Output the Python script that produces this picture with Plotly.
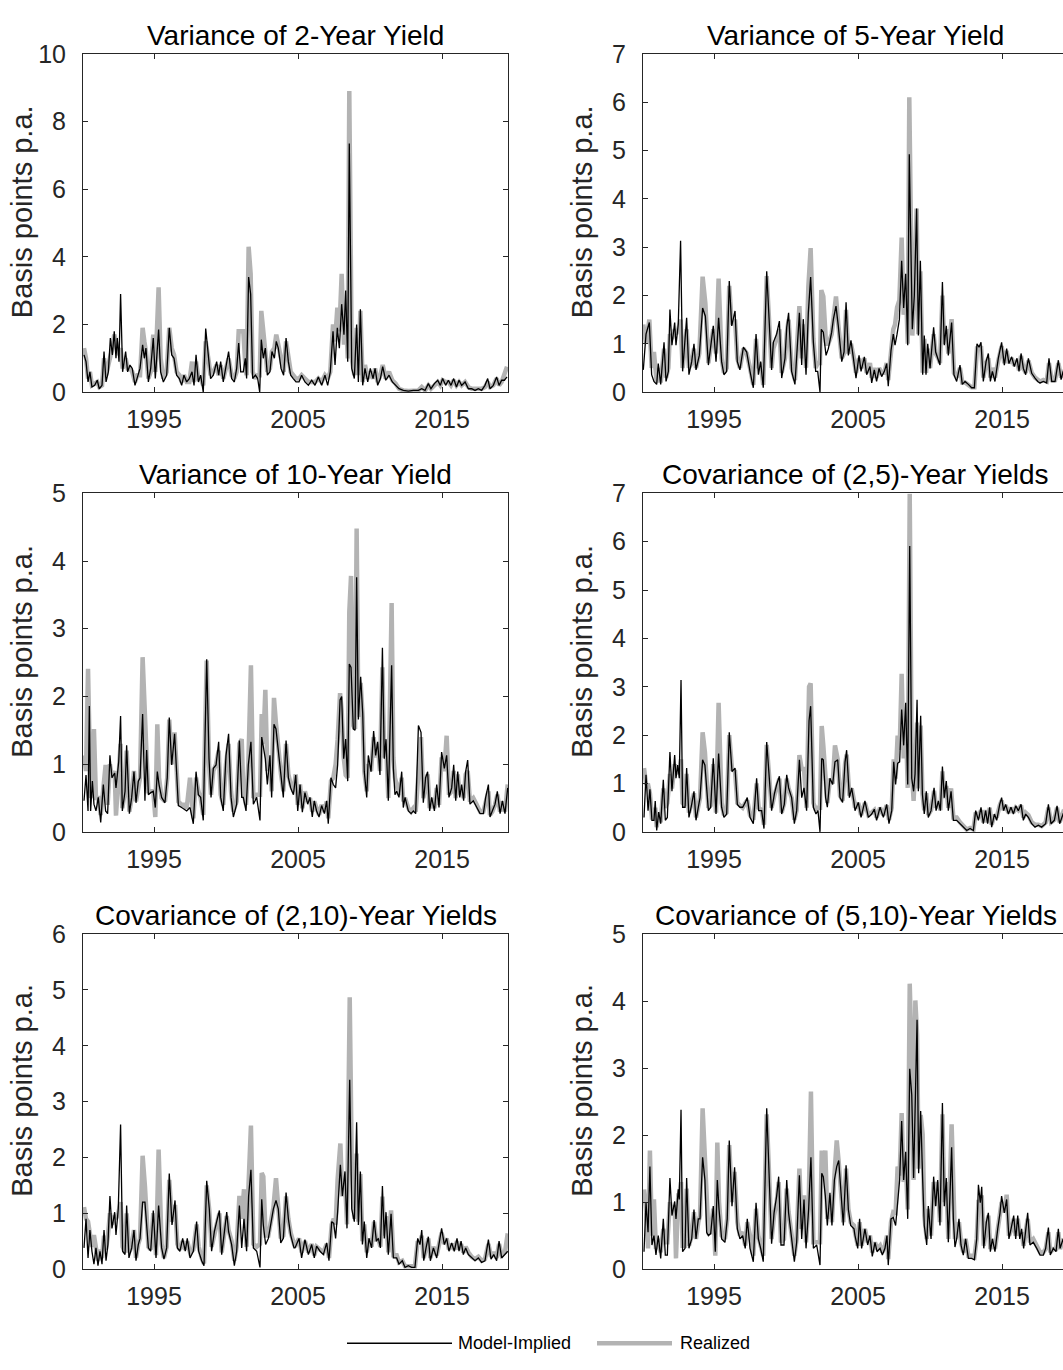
import plotly.graph_objects as go

# ---------------- DATA (decimal years, basis points p.a.) ----------------
# Panel 1: Variance of 2-Year Yield
v2_t = [1990.14, 1990.28, 1990.42, 1990.55, 1990.69, 1990.88, 1991.06, 1991.20, 1991.39, 1991.53,
        1991.67, 1991.83, 1991.97, 1992.11, 1992.24, 1992.36, 1992.45, 1992.57, 1992.68, 1992.82,
        1993.03, 1993.17, 1993.33, 1993.49, 1993.68, 1993.84, 1994.03, 1994.21, 1994.33, 1994.44,
        1994.61, 1994.77, 1994.95, 1995.09, 1995.32, 1995.46, 1995.65, 1995.88, 1996.06, 1996.23,
        1996.39, 1996.57, 1996.76, 1996.92, 1997.08, 1997.27, 1997.45, 1997.64, 1997.78, 1997.92,
        1998.08, 1998.24, 1998.42, 1998.59, 1998.77, 1998.93, 1999.12, 1999.35, 1999.49, 1999.63,
        1999.81, 2000.00, 2000.18, 2000.39, 2000.58, 2000.74, 2000.88, 2001.02, 2001.20, 2001.34,
        2001.43, 2001.57, 2001.71, 2001.85, 2002.04, 2002.20, 2002.34, 2002.45, 2002.59, 2002.73,
        2002.87, 2003.05, 2003.19, 2003.36, 2003.49, 2003.63, 2003.82, 2004.00, 2004.17, 2004.33,
        2004.49, 2004.67, 2004.86,
        2005.07, 2005.25, 2005.48, 2005.72, 2005.95, 2006.18, 2006.41, 2006.64, 2006.87, 2007.06,
        2007.24, 2007.43, 2007.57, 2007.73, 2007.87, 2008.03, 2008.19, 2008.31, 2008.45, 2008.56,
        2008.73, 2008.91, 2009.07, 2009.19, 2009.33, 2009.49, 2009.65, 2009.84, 2010.02, 2010.21,
        2010.35, 2010.53, 2010.72, 2010.88, 2011.09, 2011.32, 2011.55, 2011.78, 2012.01, 2012.31,
        2012.66, 2013.01, 2013.36, 2013.59, 2013.82, 2014.05, 2014.23, 2014.47, 2014.70, 2014.88,
        2015.04, 2015.25, 2015.44, 2015.62, 2015.81, 2016.00, 2016.18, 2016.36, 2016.60, 2016.83,
        2017.06, 2017.29, 2017.52, 2017.75, 2017.98, 2018.17, 2018.33, 2018.56, 2018.79, 2018.96,
        2019.14, 2019.33, 2019.51]
v2_model = [1.1, 0.9, 0.3, 0.6, 0.15, 0.2, 0.35, 0.1, 0.2, 1.2,
            0.3, 0.6, 1.6, 1.1, 1.8, 1.0, 1.6, 0.9, 2.9, 0.6,
            1.2, 0.6, 0.8, 0.7, 0.2, 0.4, 0.7, 1.4, 1.0, 1.3,
            0.3, 0.7, 1.6, 0.4, 1.85, 0.6, 0.3, 0.5, 1.9, 1.1,
            1.0, 0.5, 0.4, 0.2, 0.5, 0.3, 0.4, 0.6, 0.2, 1.1,
            0.3, 0.5, 0.0, 1.88, 1.1, 0.4, 0.5, 0.9, 0.5, 0.9,
            0.3, 0.8, 1.2, 0.4, 0.3, 0.7, 1.45, 0.6, 0.6, 1.0,
            0.4, 3.4, 2.9, 0.4, 0.5, 0.4, 0.0, 1.55, 1.0, 1.3,
            0.5, 0.6, 1.2, 1.0, 1.5, 1.3, 0.7, 0.5, 1.6, 0.9,
            0.5, 0.4, 0.3,
            0.3, 0.5, 0.3, 0.2, 0.35, 0.2, 0.45, 0.2, 0.5, 0.2,
            0.6, 1.8, 0.8, 1.9, 1.3, 2.6, 1.7, 3.0, 0.9, 7.35,
            0.7, 0.4, 2.0, 0.3, 2.45, 0.2, 0.7, 0.3, 0.7, 0.4,
            0.7, 0.2, 0.4, 0.75, 0.35, 0.5, 0.3, 0.2, 0.1, 0.05,
            0.03, 0.05, 0.05, 0.1, 0.05, 0.25, 0.1, 0.25, 0.35, 0.2,
            0.4, 0.2, 0.35, 0.2, 0.4, 0.15, 0.35, 0.2, 0.3, 0.1,
            0.1, 0.05, 0.1, 0.05, 0.2, 0.4, 0.1, 0.2, 0.45, 0.2,
            0.35, 0.35, 0.45]
v2_real = [1.3, 1.0, 0.4, 0.6, 0.2, 0.25, 0.3, 0.15, 0.2, 1.0,
           0.5, 0.8, 1.0, 1.3, 1.7, 1.5, 1.4, 1.1, 1.3, 0.7,
           1.0, 0.7, 0.7, 0.6, 0.3, 0.5, 0.5, 1.9, 1.5, 1.2,
           0.4, 0.6, 1.7, 0.6, 3.1, 1.0, 0.4, 0.6, 1.9, 1.3,
           1.1, 0.6, 0.5, 0.3, 0.5, 0.3, 0.3, 0.9, 0.3, 0.9,
           0.4, 0.4, 0.2, 1.5, 1.0, 0.5, 0.6, 0.8, 0.5, 0.8,
           0.4, 0.7, 1.0, 0.5, 0.4, 0.6, 1.8, 1.8, 1.8, 0.8,
           0.5, 4.3, 3.5, 0.6, 0.4, 0.5, 0.5, 2.4, 1.8, 1.5,
           0.6, 0.7, 1.2, 1.3, 1.7, 1.4, 0.9, 0.6, 1.5, 1.0,
           0.6, 0.5, 0.4,
           0.4, 0.5, 0.4, 0.3, 0.3, 0.3, 0.4, 0.3, 0.5, 0.4,
           0.6, 2.0, 1.5, 2.5, 1.8, 3.5, 1.4, 2.4, 1.0, 8.9,
           1.0, 0.5, 1.9, 0.5, 2.4, 0.3, 0.8, 0.4, 0.6, 0.4,
           0.7, 0.3, 0.5, 0.8, 0.4, 0.6, 0.35, 0.25, 0.1, 0.05,
           0.03, 0.03, 0.05, 0.15, 0.05, 0.2, 0.1, 0.2, 0.3, 0.2,
           0.35, 0.3, 0.3, 0.2, 0.35, 0.2, 0.3, 0.2, 0.3, 0.15,
           0.1, 0.1, 0.1, 0.1, 0.15, 0.3, 0.15, 0.2, 0.4, 0.2,
           0.3, 0.5, 0.75]

# Panel 2: Variance of 5-Year Yield
v5_t = [1990.09, 1990.28, 1990.51, 1990.67, 1990.83, 1991.02, 1991.13, 1991.30, 1991.53, 1991.67,
        1991.83, 1991.94, 1992.08, 1992.27, 1992.36, 1992.52, 1992.68, 1992.82, 1993.10, 1993.26,
        1993.45, 1993.61, 1993.75, 1993.98, 1994.21, 1994.40, 1994.61, 1994.95, 1995.14, 1995.32,
        1995.53, 1995.69, 1995.88, 1996.06, 1996.23, 1996.46, 1996.62, 1996.80, 1997.04, 1997.27,
        1997.50, 1997.73, 1997.92, 1998.08, 1998.24, 1998.42, 1998.66, 1998.84, 1999.00, 1999.12,
        1999.35, 1999.54, 1999.70, 1999.93, 2000.05, 2000.18, 2000.39, 2000.62, 2000.93, 2001.09,
        2001.20, 2001.39, 2001.55, 2001.71, 2001.90, 2002.06, 2002.20, 2002.36, 2002.45, 2002.59,
        2002.78, 2002.94, 2003.17, 2003.29, 2003.47, 2003.63, 2003.87, 2004.03, 2004.17, 2004.33,
        2004.51, 2004.68, 2004.86,
        2005.07, 2005.21, 2005.44, 2005.60, 2005.83, 2005.95, 2006.13, 2006.29, 2006.46, 2006.64,
        2006.83, 2006.99, 2007.10, 2007.29, 2007.45, 2007.57, 2007.71, 2007.87, 2008.03, 2008.17,
        2008.31, 2008.45, 2008.56, 2008.77, 2008.91, 2009.07, 2009.19, 2009.33, 2009.49, 2009.60,
        2009.72, 2009.84, 2010.00, 2010.25, 2010.39, 2010.58, 2010.69, 2010.86, 2010.99, 2011.13,
        2011.27, 2011.50, 2011.66, 2011.85, 2012.08, 2012.24, 2012.43, 2012.66, 2012.89, 2013.08,
        2013.26, 2013.40, 2013.54, 2013.70, 2013.89, 2014.05, 2014.19, 2014.33, 2014.51, 2014.74,
        2014.97, 2015.16, 2015.32, 2015.48, 2015.67, 2015.85, 2016.04, 2016.18, 2016.32, 2016.48,
        2016.64, 2016.83, 2017.06, 2017.29, 2017.48, 2017.64, 2017.87, 2018.10, 2018.26, 2018.45,
        2018.68, 2018.91, 2019.10, 2019.24, 2019.45]
v5_model = [0.46, 1.2, 1.44, 0.36, 0.22, 0.16, 0.59, 0.16, 1.03, 0.22,
            0.43, 1.71, 0.97, 1.44, 0.97, 1.41, 3.13, 0.43, 1.54, 0.36,
            0.63, 1.0, 0.46, 0.76, 1.74, 1.57, 0.56, 1.37, 0.63, 1.54,
            0.63, 0.36, 0.43, 2.3, 1.37, 1.68, 0.63, 0.46, 0.93, 0.83,
            0.43, 0.09, 1.2, 0.36, 0.63, 0.09, 2.5, 1.37, 0.46, 1.03,
            1.2, 1.47, 0.29, 0.7, 1.34, 1.64, 0.43, 0.16, 1.64, 0.56,
            1.51, 0.36, 1.64, 2.38, 1.03, 0.43, 0.43, 0.0, 1.3, 1.24,
            0.76, 0.9, 1.24, 1.51, 1.78, 1.37, 0.63, 0.83, 1.86, 0.76,
            1.07, 0.7, 0.29,
            0.76, 0.43, 0.73, 0.36, 0.53, 0.19, 0.46, 0.22, 0.49, 0.32,
            0.43, 0.59, 0.12, 0.86, 1.2, 0.97, 1.2, 1.5, 2.72, 1.74,
            2.45, 0.97, 4.92, 1.3, 2.0, 3.8, 1.17, 2.72, 0.36, 1.17,
            0.36, 1.0, 0.49, 1.34, 0.83, 0.63, 0.56, 2.28, 0.97, 1.37,
            0.76, 1.44, 0.36, 0.22, 0.56, 0.16, 0.22, 0.16, 0.09, 0.09,
            1.0, 0.93, 1.03, 0.22, 0.63, 0.8, 0.22, 0.43, 0.22, 0.7,
            1.03, 0.56, 0.9, 0.59, 0.73, 0.53, 0.7, 0.43, 0.8, 0.49,
            0.36, 0.7, 0.39, 0.29, 0.22, 0.19, 0.22, 0.19, 0.7, 0.22,
            0.22, 0.66, 0.26, 0.43, 0.3]
v5_real = [1.4, 1.0, 1.5, 0.5, 0.83, 0.2, 0.5, 0.2, 0.9, 0.3,
           0.5, 1.2, 1.1, 1.3, 1.2, 1.3, 1.5, 0.5, 1.3, 0.5,
           0.6, 0.9, 0.5, 0.8, 2.39, 1.84, 0.6, 1.3, 0.8, 2.35,
           0.7, 0.4, 0.5, 2.2, 1.4, 1.5, 0.7, 0.5, 0.9, 0.8,
           0.5, 0.15, 1.1, 0.5, 0.6, 0.15, 2.4, 1.2, 0.5, 0.9,
           1.1, 1.3, 0.4, 0.7, 1.2, 1.5, 0.5, 0.25, 1.78, 0.7,
           1.4, 0.5, 2.18, 2.98, 1.1, 0.5, 0.6, 0.6, 2.11, 1.98,
           1.0, 1.0, 1.2, 1.57, 1.98, 1.4, 0.7, 0.8, 1.7, 0.8,
           1.0, 0.75, 0.4,
           0.7, 0.5, 0.7, 0.4, 0.6, 0.3, 0.5, 0.3, 0.5, 0.4,
           0.4, 0.6, 0.25, 0.9, 1.3, 1.4, 1.75, 1.9, 3.2, 1.6,
           2.3, 1.0, 6.1, 1.17, 2.05, 3.8, 1.2, 2.5, 0.4, 1.1,
           0.4, 0.9, 0.5, 1.2, 0.8, 0.7, 0.6, 2.0, 1.0, 1.3,
           0.8, 1.51, 0.4, 0.3, 0.5, 0.2, 0.2, 0.15, 0.1, 0.1,
           0.9, 0.9, 0.95, 0.3, 0.6, 0.7, 0.3, 0.5, 0.3, 0.65,
           0.95, 0.6, 0.85, 0.6, 0.7, 0.55, 0.65, 0.45, 0.75, 0.5,
           0.4, 0.65, 0.4, 0.3, 0.25, 0.22, 0.25, 0.22, 0.6, 0.25,
           0.25, 0.6, 0.3, 0.45, 0.35]

# Panel 3: Variance of 10-Year Yield
v10_t = [1990.14, 1990.28, 1990.42, 1990.51, 1990.60, 1990.72, 1990.83, 1990.97, 1991.13, 1991.30,
         1991.48, 1991.64, 1991.78, 1991.94, 1992.08, 1992.27, 1992.36, 1992.55, 1992.68, 1992.80,
         1992.99, 1993.10, 1993.29, 1993.45, 1993.61, 1993.75, 1993.91, 1994.03, 1994.21, 1994.37,
         1994.49, 1994.61, 1994.77, 1994.95, 1995.09, 1995.23, 1995.35, 1995.53, 1995.76, 1995.92,
         1996.06, 1996.23, 1996.43, 1996.57, 1996.69, 1996.92, 1997.08, 1997.27, 1997.50, 1997.73,
         1997.92, 1998.08, 1998.24, 1998.42, 1998.66, 1998.82, 1998.96, 1999.12, 1999.31, 1999.49,
         1999.63, 1999.81, 2000.00, 2000.18, 2000.35, 2000.51, 2000.74, 2000.93, 2001.09, 2001.20,
         2001.39, 2001.55, 2001.73, 2001.90, 2002.13, 2002.36, 2002.48, 2002.59, 2002.73, 2002.87,
         2003.05, 2003.17, 2003.33, 2003.47, 2003.63, 2003.82, 2003.98, 2004.17, 2004.33, 2004.49,
         2004.68,
         2004.84, 2004.98, 2005.14, 2005.30, 2005.48, 2005.67, 2005.83, 2005.99, 2006.13, 2006.29,
         2006.46, 2006.64, 2006.83, 2006.99, 2007.10, 2007.29, 2007.45, 2007.61, 2007.75, 2007.92,
         2008.03, 2008.17, 2008.31, 2008.45, 2008.56, 2008.68, 2008.84, 2008.96, 2009.07, 2009.19,
         2009.35, 2009.49, 2009.60, 2009.77, 2009.88, 2010.07, 2010.25, 2010.39, 2010.53, 2010.69,
         2010.86, 2010.99, 2011.11, 2011.27, 2011.50, 2011.62, 2011.73, 2011.85, 2012.01, 2012.20,
         2012.31, 2012.43, 2012.66, 2012.85, 2013.01, 2013.17, 2013.36, 2013.54, 2013.70, 2013.86,
         2014.00, 2014.14, 2014.28, 2014.47, 2014.63, 2014.79, 2014.97, 2015.16, 2015.32, 2015.48,
         2015.67, 2015.81, 2015.95, 2016.09, 2016.23, 2016.36, 2016.50, 2016.64, 2016.78, 2016.94,
         2017.17, 2017.41, 2017.64, 2017.87, 2018.03, 2018.22, 2018.33, 2018.49, 2018.68, 2018.84,
         2019.03, 2019.19, 2019.37, 2019.56]
v10_model = [0.46, 0.84, 0.31, 1.86, 0.31, 0.75, 0.41, 0.31, 0.51, 0.14,
             0.7, 0.31, 0.27, 1.13, 0.8, 0.87, 0.65, 1.04, 1.71, 0.31,
             0.6, 1.28, 0.27, 0.51, 0.89, 0.43, 0.75, 0.8, 1.74, 0.46,
             1.21, 0.55, 0.58, 0.6, 0.36, 0.89, 0.7, 0.51, 0.43, 0.8,
             1.69, 0.99, 1.45, 0.8, 0.39, 0.36, 0.34, 0.31, 0.36, 0.12,
             0.89, 0.55, 0.51, 0.17, 2.55, 1.08, 0.51, 0.94, 0.99, 1.33,
             0.51, 0.31, 1.13, 1.45, 0.51, 0.22, 0.41, 1.35, 0.51, 0.51,
             0.31, 0.99, 1.33, 0.41, 0.51, 0.17, 1.4, 1.28, 1.08, 0.7,
             1.13, 0.51, 1.59, 1.52, 1.18, 0.8, 0.51, 1.35, 0.8, 0.65,
             0.55,
             0.84, 0.31, 0.7, 0.29, 0.58, 0.41, 0.51, 0.22, 0.46, 0.31,
             0.22, 0.39, 0.27, 0.46, 0.12, 0.8, 0.7, 0.65, 0.99, 1.95,
             2.0, 1.08, 1.37, 0.75, 2.48, 2.43, 1.52, 1.5, 3.76, 1.66,
             2.29, 1.76, 0.89, 0.51, 1.13, 0.89, 1.49, 1.13, 1.33, 0.84,
             2.72, 1.08, 1.37, 0.46, 2.46, 0.94, 0.55, 0.6, 0.51, 0.89,
             0.36, 0.51, 0.31, 0.27, 0.31, 0.27, 1.57, 1.47, 0.43, 0.8,
             0.89, 0.31, 0.51, 0.31, 0.7, 0.36, 1.18, 0.94, 1.13, 0.51,
             0.65, 0.99, 0.46, 0.89, 0.51, 0.7, 0.46, 0.89, 1.06, 0.41,
             0.46, 0.36, 0.27, 0.27, 0.51, 0.7, 0.22, 0.31, 0.41, 0.6,
             0.27, 0.46, 0.27, 0.65]
v10_real = [1.13, 0.9, 2.41, 1.6, 0.5, 0.8, 1.52, 0.5, 0.5, 0.25,
            0.6, 0.99, 0.4, 1.0, 0.8, 0.9, 0.24, 1.0, 1.3, 0.35,
            0.6, 1.2, 0.3, 0.5, 0.9, 0.45, 0.7, 0.8, 2.58, 1.47,
            1.1, 0.6, 0.6, 0.6, 0.22, 1.59, 0.8, 0.5, 0.45, 0.8,
            1.66, 1.0, 1.47, 0.85, 0.45, 0.4, 0.4, 0.35, 0.8, 0.2,
            0.8, 0.6, 0.5, 0.25, 2.53, 1.0, 0.55, 0.9, 1.0, 1.2,
            0.55, 0.4, 1.0, 1.3, 0.6, 0.3, 0.45, 1.3, 1.37, 0.6,
            0.4, 1.0, 2.46, 0.5, 0.55, 0.55, 1.74, 1.3, 2.1, 0.9,
            1.1, 0.6, 1.98, 1.6, 1.2, 0.85, 0.6, 1.3, 0.85, 0.7,
            0.6,
            0.85, 0.4, 0.7, 0.35, 0.6, 0.45, 0.5, 0.3, 0.45, 0.35,
            0.25, 0.4, 0.3, 0.45, 0.2, 0.75, 0.8, 1.0, 1.37, 2.05,
            1.8, 1.1, 0.84, 0.8, 3.25, 3.78, 1.57, 1.52, 4.48, 1.7,
            2.2, 1.7, 0.9, 0.6, 1.0, 0.9, 1.4, 1.1, 1.3, 0.9,
            2.43, 1.1, 1.3, 0.5, 3.38, 1.1, 0.8, 0.7, 0.55, 0.8,
            0.45, 0.5, 0.35, 0.3, 0.35, 0.3, 1.0, 1.4, 0.5, 0.75,
            0.85, 0.35, 0.5, 0.35, 0.65, 0.4, 1.1, 0.9, 1.42, 0.55,
            0.6, 0.9, 0.5, 0.85, 0.55, 0.65, 0.5, 0.85, 0.9, 0.45,
            0.5, 0.4, 0.3, 0.3, 0.45, 0.6, 0.25, 0.3, 0.4, 0.55,
            0.3, 0.45, 0.3, 0.7]

# Panel 4: Covariance of (2,5)-Year Yields
c25_t = [1990.14, 1990.28, 1990.42, 1990.55, 1990.69, 1990.83, 1990.92, 1991.02, 1991.16, 1991.30,
         1991.48, 1991.62, 1991.76, 1991.94, 1992.08, 1992.27, 1992.36, 1992.48, 1992.59, 1992.71,
         1992.82, 1992.99, 1993.10, 1993.26, 1993.45, 1993.61, 1993.75, 1993.91, 1994.03, 1994.21,
         1994.37, 1994.61, 1994.77, 1994.95, 1995.14, 1995.32, 1995.53, 1995.69, 1995.88, 1996.06,
         1996.25, 1996.46, 1996.62, 1996.80, 1996.99, 1997.17, 1997.31, 1997.50, 1997.73, 1997.96,
         1998.10, 1998.31, 1998.47, 1998.66, 1998.82, 1999.00, 1999.19, 1999.35, 1999.54, 1999.70,
         1999.88, 2000.05, 2000.18, 2000.39, 2000.58, 2000.74, 2000.93, 2001.09, 2001.25, 2001.43,
         2001.60, 2001.71, 2001.90, 2002.08, 2002.22, 2002.36, 2002.48, 2002.59, 2002.75, 2002.87,
         2003.05, 2003.24, 2003.40, 2003.59, 2003.75, 2003.93, 2004.10, 2004.21, 2004.40, 2004.56,
         2004.72,
         2004.79, 2005.02, 2005.21, 2005.48, 2005.72, 2005.95, 2006.13, 2006.29, 2006.53, 2006.76,
         2006.99, 2007.15, 2007.34, 2007.48, 2007.61, 2007.75, 2007.89, 2008.03, 2008.17, 2008.31,
         2008.45, 2008.59, 2008.73, 2008.86, 2008.96, 2009.10, 2009.19, 2009.35, 2009.47, 2009.60,
         2009.74, 2009.88, 2010.07, 2010.28, 2010.42, 2010.58, 2010.72, 2010.86, 2010.99, 2011.13,
         2011.27, 2011.46, 2011.62, 2011.85, 2012.08, 2012.31, 2012.55, 2012.78, 2013.01, 2013.17,
         2013.36, 2013.54, 2013.70, 2013.86, 2014.00, 2014.14, 2014.28, 2014.47, 2014.63, 2014.84,
         2014.97, 2015.11, 2015.25, 2015.44, 2015.62, 2015.79, 2015.95, 2016.13, 2016.32, 2016.48,
         2016.64, 2016.83, 2017.06, 2017.29, 2017.52, 2017.75, 2018.03, 2018.22, 2018.40, 2018.63,
         2018.82, 2019.00, 2019.24, 2019.45]
c25_model = [0.3, 1.18, 0.44, 0.88, 0.24, 0.24, 0.64, 0.03, 0.41, 0.17,
             1.08, 0.24, 0.3, 1.65, 0.84, 1.59, 1.11, 1.38, 1.11, 3.14,
             0.51, 0.51, 1.32, 0.3, 0.57, 0.84, 0.24, 0.51, 0.71, 1.49,
             1.38, 0.44, 0.51, 1.52, 0.37, 1.62, 0.51, 0.3, 0.37, 2.06,
             1.25, 1.32, 0.57, 0.51, 0.51, 0.61, 0.71, 0.3, 0.17, 1.11,
             0.44, 0.44, 0.07, 1.86, 1.18, 0.44, 0.78, 0.98, 1.15, 0.37,
             0.57, 1.18, 0.91, 0.71, 0.17, 0.44, 1.49, 0.71, 0.91, 0.44,
             2.3, 2.6, 0.51, 0.37, 0.44, 0.0, 1.52, 1.49, 0.71, 0.51,
             1.11, 0.98, 1.45, 1.49, 0.71, 0.61, 1.45, 1.69, 0.71, 0.91,
             0.61,
             0.44, 0.61, 0.3, 0.64, 0.3, 0.37, 0.47, 0.24, 0.51, 0.3,
             0.57, 0.17, 0.44, 1.45, 0.98, 1.42, 1.45, 2.53, 1.79, 2.67,
             0.98, 5.91, 1.11, 0.84, 1.2, 2.73, 0.84, 2.4, 0.78, 0.37,
             0.84, 0.3, 0.44, 0.91, 0.44, 0.64, 0.44, 1.35, 0.71, 1.05,
             0.44, 0.84, 0.24, 0.24, 0.17, 0.1, 0.03, 0.07, 0.03, 0.44,
             0.24, 0.51, 0.17, 0.44, 0.17, 0.51, 0.1, 0.37, 0.24, 0.57,
             0.71, 0.44, 0.57, 0.37, 0.51, 0.37, 0.54, 0.44, 0.57, 0.24,
             0.37, 0.3, 0.17, 0.1, 0.14, 0.1, 0.17, 0.57, 0.17, 0.24,
             0.54, 0.17, 0.37, 0.3]
c25_real = [1.32, 1.0, 0.98, 0.8, 0.3, 0.3, 0.5, 0.1, 0.4, 0.2,
            0.9, 0.5, 0.6, 1.2, 0.9, 1.4, 1.2, 1.3, 1.3, 1.5,
            0.6, 0.55, 1.2, 0.4, 0.6, 0.8, 0.3, 0.55, 0.7, 2.06,
            1.65, 0.5, 0.55, 1.4, 0.4, 2.67, 0.6, 0.35, 0.4, 2.0,
            1.3, 1.25, 0.6, 0.55, 0.5, 0.6, 0.65, 0.35, 0.25, 1.0,
            0.5, 0.45, 0.15, 1.8, 1.15, 0.5, 0.75, 0.95, 1.1, 0.4,
            0.6, 1.1, 0.9, 0.7, 0.25, 0.45, 1.59, 1.3, 1.3, 0.5,
            3.0, 3.07, 0.6, 0.45, 0.5, 0.5, 2.19, 1.79, 0.9, 0.6,
            1.1, 1.0, 1.79, 1.5, 0.75, 0.65, 1.4, 1.6, 0.75, 0.9,
            0.65,
            0.5, 0.6, 0.35, 0.6, 0.35, 0.4, 0.45, 0.3, 0.5, 0.35,
            0.55, 0.25, 0.5, 1.5, 1.1, 1.99, 1.7, 3.27, 1.52, 2.4,
            0.91, 6.99, 1.3, 0.64, 1.18, 2.26, 0.9, 2.2, 0.8, 0.45,
            0.8, 0.35, 0.45, 0.85, 0.5, 0.6, 0.45, 1.25, 0.7, 0.95,
            0.5, 0.9, 0.3, 0.3, 0.2, 0.12, 0.05, 0.08, 0.05, 0.4,
            0.3, 0.45, 0.2, 0.45, 0.2, 0.5, 0.15, 0.35, 0.3, 0.55,
            0.65, 0.45, 0.55, 0.4, 0.5, 0.4, 0.5, 0.45, 0.55, 0.3,
            0.4, 0.35, 0.2, 0.15, 0.15, 0.12, 0.2, 0.5, 0.2, 0.25,
            0.5, 0.2, 0.4, 0.35]

# Panel 5: Covariance of (2,10)-Year Yields
c210_t = [1990.14, 1990.28, 1990.42, 1990.55, 1990.69, 1990.83, 1990.97, 1991.11, 1991.25, 1991.39,
          1991.53, 1991.67, 1991.80, 1991.94, 1992.08, 1992.27, 1992.36, 1992.52, 1992.68, 1992.82,
          1992.99, 1993.10, 1993.26, 1993.45, 1993.61, 1993.75, 1993.91, 1994.03, 1994.21, 1994.37,
          1994.61, 1994.77, 1994.95, 1995.14, 1995.32, 1995.53, 1995.69, 1995.88, 1996.06, 1996.25,
          1996.46, 1996.62, 1996.80, 1996.99, 1997.17, 1997.31, 1997.50, 1997.73, 1997.96, 1998.10,
          1998.31, 1998.47, 1998.66, 1998.84, 1999.00, 1999.19, 1999.35, 1999.54, 1999.70, 1999.86,
          2000.05, 2000.18, 2000.39, 2000.58, 2000.74, 2000.93, 2001.09, 2001.25, 2001.43, 2001.57,
          2001.73, 2001.90, 2002.13, 2002.36, 2002.48, 2002.59, 2002.75, 2002.94, 2003.12, 2003.29,
          2003.47, 2003.63, 2003.80, 2003.98, 2004.17, 2004.33, 2004.49, 2004.72,
          2004.79, 2005.07, 2005.25, 2005.48, 2005.72, 2005.95, 2006.13, 2006.29, 2006.53, 2006.76,
          2006.99, 2007.15, 2007.34, 2007.48, 2007.61, 2007.75, 2007.94, 2008.08, 2008.26, 2008.40,
          2008.59, 2008.73, 2008.91, 2009.07, 2009.19, 2009.33, 2009.47, 2009.60, 2009.77, 2009.93,
          2010.11, 2010.28, 2010.44, 2010.58, 2010.72, 2010.86, 2010.99, 2011.11, 2011.27, 2011.46,
          2011.62, 2011.85, 2012.01, 2012.24, 2012.43, 2012.66, 2012.89, 2013.12, 2013.31, 2013.47,
          2013.59, 2013.73, 2013.89, 2014.05, 2014.19, 2014.40, 2014.63, 2014.79, 2014.97, 2015.16,
          2015.32, 2015.48, 2015.67, 2015.85, 2016.04, 2016.18, 2016.32, 2016.48, 2016.64, 2016.83,
          2017.06, 2017.29, 2017.52, 2017.75, 2017.98, 2018.22, 2018.40, 2018.59, 2018.79, 2018.96,
          2019.14, 2019.37, 2019.56]
c210_model = [0.38, 0.9, 0.2, 0.7, 0.32, 0.09, 0.38, 0.06, 0.32, 0.09,
              0.7, 0.15, 0.44, 1.31, 0.73, 1.02, 0.61, 1.08, 2.59, 0.32,
              0.26, 1.14, 0.2, 0.38, 0.7, 0.15, 0.44, 0.55, 1.2, 1.2,
              0.38, 0.32, 1.05, 0.2, 1.14, 0.38, 0.18, 0.38, 1.71, 0.79,
              1.23, 0.38, 0.32, 0.55, 0.32, 0.55, 0.2, 0.32, 0.85, 0.32,
              0.15, 0.06, 1.58, 1.08, 0.32, 0.67, 0.85, 1.05, 0.26, 0.61,
              1.02, 0.67, 0.44, 0.06, 0.32, 1.14, 0.38, 0.9, 0.32, 1.31,
              1.78, 0.38, 0.32, 0.03, 1.25, 0.79, 0.44, 0.55, 0.85, 1.08,
              1.23, 1.08, 0.47, 0.55, 1.37, 0.9, 0.61, 0.38,
              0.38, 0.55, 0.2, 0.53, 0.26, 0.44, 0.2, 0.41, 0.32, 0.26,
              0.47, 0.15, 0.85, 0.82, 0.55, 1.02, 1.87, 1.31, 1.75, 0.73,
              3.39, 1.08, 0.85, 2.63, 0.79, 1.75, 0.44, 0.85, 0.2, 0.55,
              0.38, 0.88, 0.5, 0.55, 0.38, 1.49, 0.55, 1.02, 0.26, 0.99,
              0.2, 0.2, 0.09, 0.15, 0.03, 0.06, 0.03, 0.03, 0.55, 0.44,
              0.7, 0.15, 0.38, 0.58, 0.15, 0.38, 0.2, 0.44, 0.73, 0.44,
              0.55, 0.32, 0.47, 0.32, 0.55, 0.32, 0.5, 0.26, 0.38, 0.26,
              0.2, 0.15, 0.2, 0.12, 0.15, 0.53, 0.18, 0.26, 0.15, 0.5,
              0.2, 0.26, 0.32]
c210_real = [1.11, 0.9, 0.85, 0.6, 0.4, 0.61, 0.4, 0.15, 0.35, 0.2,
             0.6, 0.35, 0.6, 1.0, 0.8, 0.95, 0.9, 1.0, 1.2, 0.4,
             0.3, 1.0, 0.3, 0.4, 0.7, 0.2, 0.45, 0.55, 2.03, 1.49,
             0.4, 0.35, 1.0, 0.25, 2.14, 0.45, 0.2, 0.4, 1.6, 0.85,
             1.15, 0.45, 0.35, 0.5, 0.35, 0.5, 0.3, 0.35, 0.8, 0.4,
             0.2, 0.1, 1.5, 1.05, 0.4, 0.65, 0.8, 1.0, 0.3, 0.6,
             0.95, 0.7, 0.5, 0.15, 0.4, 1.31, 0.9, 1.43, 0.4, 1.55,
             2.57, 0.45, 0.4, 0.45, 1.72, 1.66, 0.6, 0.6, 0.85, 1.1,
             1.63, 1.1, 0.55, 0.6, 1.3, 0.9, 0.65, 0.45,
             0.4, 0.55, 0.3, 0.5, 0.3, 0.45, 0.25, 0.4, 0.35, 0.3,
             0.45, 0.2, 0.8, 0.9, 0.8, 1.61, 2.25, 1.3, 1.6, 0.8,
             4.87, 1.9, 0.9, 2.07, 0.85, 1.7, 0.5, 0.8, 0.3, 0.55,
             0.4, 0.85, 0.5, 0.55, 0.4, 1.3, 0.6, 0.95, 0.3, 1.05,
             0.25, 0.25, 0.12, 0.15, 0.05, 0.06, 0.05, 0.05, 0.5, 0.45,
             0.6, 0.2, 0.4, 0.55, 0.2, 0.4, 0.25, 0.45, 0.65, 0.45,
             0.55, 0.35, 0.45, 0.35, 0.5, 0.35, 0.45, 0.3, 0.4, 0.3,
             0.22, 0.18, 0.22, 0.15, 0.18, 0.45, 0.22, 0.3, 0.2, 0.45,
             0.25, 0.3, 0.64]

# Panel 6: Covariance of (5,10)-Year Yields
c510_t = [1990.14, 1990.28, 1990.42, 1990.55, 1990.69, 1990.83, 1990.97, 1991.13, 1991.30, 1991.48,
          1991.62, 1991.76, 1991.94, 1992.08, 1992.27, 1992.36, 1992.52, 1992.59, 1992.71, 1992.82,
          1992.99, 1993.10, 1993.26, 1993.45, 1993.61, 1993.75, 1993.91, 1994.03, 1994.21, 1994.37,
          1994.49, 1994.61, 1994.77, 1994.95, 1995.09, 1995.23, 1995.35, 1995.53, 1995.76, 1995.92,
          1996.06, 1996.25, 1996.43, 1996.62, 1996.80, 1996.99, 1997.17, 1997.31, 1997.50, 1997.73,
          1997.92, 1998.08, 1998.24, 1998.42, 1998.66, 1998.84, 1999.00, 1999.17, 1999.35, 1999.49,
          1999.65, 1999.86, 2000.05, 2000.18, 2000.39, 2000.58, 2000.74, 2000.93, 2001.09, 2001.25,
          2001.39, 2001.57, 2001.73, 2001.90, 2002.13, 2002.36, 2002.48, 2002.59, 2002.73, 2002.87,
          2003.05, 2003.19, 2003.36, 2003.52, 2003.66, 2003.82, 2003.98, 2004.17, 2004.33, 2004.49,
          2004.72,
          2004.79, 2004.98, 2005.11, 2005.25, 2005.48, 2005.67, 2005.83, 2005.99, 2006.18, 2006.32,
          2006.53, 2006.69, 2006.87, 2007.01, 2007.10, 2007.29, 2007.45, 2007.61, 2007.75, 2007.89,
          2008.03, 2008.17, 2008.31, 2008.45, 2008.59, 2008.73, 2008.86, 2008.98, 2009.10, 2009.21,
          2009.35, 2009.49, 2009.60, 2009.77, 2009.88, 2010.07, 2010.25, 2010.39, 2010.53, 2010.69,
          2010.86, 2010.99, 2011.13, 2011.27, 2011.50, 2011.62, 2011.73, 2011.85, 2012.01, 2012.15,
          2012.31, 2012.47, 2012.66, 2012.89, 2013.08, 2013.24, 2013.36, 2013.49, 2013.59, 2013.73,
          2013.91, 2014.05, 2014.19, 2014.33, 2014.51, 2014.70, 2014.86, 2014.97, 2015.16, 2015.32,
          2015.48, 2015.67, 2015.81, 2015.95, 2016.09, 2016.23, 2016.36, 2016.50, 2016.64, 2016.78,
          2016.94, 2017.17, 2017.41, 2017.64, 2017.87, 2018.03, 2018.22, 2018.35, 2018.56, 2018.75,
          2018.91, 2019.03, 2019.24, 2019.45]
c510_model = [0.26, 0.99, 0.55, 1.53, 0.36, 0.5, 0.21, 0.5, 0.16, 0.75,
              0.21, 0.21, 1.36, 0.8, 1.01, 0.75, 1.19, 1.04, 2.38, 0.26,
              0.31, 1.36, 0.31, 0.45, 0.89, 0.45, 0.75, 0.75, 1.67, 1.33,
              0.55, 0.5, 0.53, 0.94, 0.26, 1.33, 0.89, 0.45, 0.4, 0.75,
              1.92, 0.94, 1.52, 0.6, 0.45, 0.5, 0.31, 0.75, 0.31, 0.11,
              0.99, 0.45, 0.31, 0.11, 2.4, 1.23, 0.38, 0.84, 1.09, 1.38,
              0.36, 0.36, 1.33, 0.84, 0.45, 0.11, 0.4, 1.4, 0.45, 1.04,
              0.31, 0.89, 1.67, 0.31, 0.36, 0.06, 1.43, 1.38, 1.09, 0.65,
              1.14, 0.65, 1.33, 1.53, 1.62, 1.09, 0.65, 1.55, 0.89, 0.65,
              0.6,
              0.5, 0.31, 0.75, 0.31, 0.6, 0.36, 0.5, 0.19, 0.4, 0.26,
              0.31, 0.21, 0.31, 0.5, 0.06, 0.75, 0.77, 0.65, 0.99, 1.33,
              2.21, 1.33, 1.75, 0.75, 2.99, 2.6, 1.36, 2.5, 3.72, 1.43,
              2.36, 1.33, 0.65, 0.36, 0.94, 0.45, 1.38, 0.94, 1.33, 0.65,
              2.48, 0.94, 1.36, 0.4, 1.82, 0.75, 0.33, 0.45, 0.75, 0.36,
              0.21, 0.45, 0.16, 0.16, 0.14, 0.45, 1.26, 0.99, 1.23, 0.31,
              0.7, 0.84, 0.26, 0.45, 0.26, 0.6, 0.84, 1.09, 0.84, 1.04,
              0.45, 0.65, 0.8, 0.45, 0.8, 0.45, 0.6, 0.31, 0.6, 0.84,
              0.36, 0.4, 0.31, 0.21, 0.21, 0.31, 0.62, 0.21, 0.31, 0.26,
              0.6, 0.31, 0.45, 0.3]
c510_real = [1.19, 0.9, 0.31, 1.77, 0.5, 1.04, 0.3, 0.45, 0.25, 0.6,
             0.4, 0.4, 1.0, 0.85, 0.95, 0.16, 1.1, 1.1, 1.3, 0.35,
             0.35, 1.2, 0.35, 0.5, 0.85, 0.45, 0.7, 0.8, 2.4, 1.62,
             0.9, 0.55, 0.55, 0.9, 0.2, 1.89, 1.0, 0.5, 0.45, 0.75,
             1.85, 1.0, 1.45, 0.7, 0.5, 0.55, 0.35, 0.7, 0.5, 0.2,
             0.9, 0.5, 0.35, 0.2, 2.31, 1.15, 0.45, 0.8, 1.0, 1.3,
             0.4, 0.45, 1.2, 0.85, 0.5, 0.2, 0.45, 1.5, 0.6, 1.1,
             0.4, 0.95, 2.65, 0.4, 0.4, 0.4, 1.77, 1.4, 1.77, 0.75,
             1.1, 0.7, 1.4, 1.92, 1.6, 1.1, 0.7, 1.5, 0.9, 0.7,
             0.65,
             0.55, 0.35, 0.7, 0.35, 0.6, 0.4, 0.5, 0.25, 0.4, 0.3,
             0.35, 0.25, 0.35, 0.5, 0.15, 0.7, 0.85, 0.84, 1.53, 1.4,
             2.33, 1.3, 1.6, 0.89, 4.26, 3.14, 1.33, 4.01, 3.5, 1.5,
             2.3, 2.01, 0.8, 0.45, 0.9, 0.5, 1.3, 0.95, 1.3, 0.7,
             2.31, 1.0, 1.3, 0.45, 2.16, 0.85, 0.45, 0.5, 0.7, 0.4,
             0.25, 0.45, 0.2, 0.2, 0.18, 0.45, 1.0, 1.0, 1.1, 0.35,
             0.65, 0.8, 0.3, 0.45, 0.3, 0.6, 0.8, 1.0, 0.85, 1.11,
             0.5, 0.6, 0.75, 0.5, 0.75, 0.5, 0.55, 0.35, 0.55, 0.75,
             0.4, 0.45, 0.35, 0.25, 0.25, 0.3, 0.55, 0.25, 0.3, 0.3,
             0.55, 0.3, 0.45, 0.35]

titles = ["Variance of 2-Year Yield", "Variance of 5-Year Yield",
          "Variance of 10-Year Yield", "Covariance of (2,5)-Year Yields",
          "Covariance of (2,10)-Year Yields", "Covariance of (5,10)-Year Yields"]
y_max = [10, 7, 5, 7, 6, 5]
y_step = [2, 1, 1, 1, 1, 1]
x_tick_vals = [1995, 2005, 2015]
x_tick_text = ["1995", "2005", "2015"]
series = [(v2_t, v2_model, v2_real), (v5_t, v5_model, v5_real),
          (v10_t, v10_model, v10_real), (c25_t, c25_model, c25_real),
          (c210_t, c210_model, c210_real), (c510_t, c510_model, c510_real)]
for t_, m_, r_ in series:
    assert len(t_) == len(m_) == len(r_), (len(t_), len(m_), len(r_))

# ---------------- LAYOUT ----------------
W, H = 1063, 1370
FONT = "Liberation Sans, Arial, Helvetica, sans-serif"
AX = "#262626"
GRAY = "#b3b3b3"
TICK_SIZE = 25
TITLE_SIZE = 28
LABEL_SIZE = 29
col_px = [(83, 508), (643, 1068)]          # plot-area left/right in px (right col runs off-canvas)
row_px = [(40.7, 386.0), (489.3, 835.0), (939.3, 1281.3)]
x0 = 1990.07
px_per_year = 425 / 29.51

fig = go.Figure()
annotations = []
for i, (t_, m_, r_) in enumerate(series):
    r, c = divmod(i, 2)
    n = "" if i == 0 else str(i + 1)
    xl, xr = col_px[c]
    yt, yb = row_px[r]
    dom_x = [xl / W, min(xr, W) / W]
    dom_y = [1 - yb / H, 1 - yt / H]
    x1 = x0 + (min(xr, W) - xl) / px_per_year
    fig.add_trace(go.Scatter(x=t_, y=r_, mode="lines", name="Realized",
                             line=dict(color=GRAY, width=4.5), xaxis="x" + n, yaxis="y" + n,
                             showlegend=False, hoverinfo="skip"))
    fig.add_trace(go.Scatter(x=t_, y=m_, mode="lines", name="Model-Implied",
                             line=dict(color="black", width=1.3), xaxis="x" + n, yaxis="y" + n,
                             showlegend=False, hoverinfo="skip"))
    fig.layout["xaxis" + n] = dict(
        domain=dom_x, anchor="y" + n, range=[x0, x1], tickvals=x_tick_vals, ticktext=x_tick_text,
        ticks="inside", ticklen=5, tickcolor=AX, showline=True, linecolor=AX, linewidth=1,
        mirror="ticks", showgrid=False, zeroline=False, ticklabelstandoff=5,
        tickfont=dict(family=FONT, size=TICK_SIZE, color=AX))
    fig.layout["yaxis" + n] = dict(
        domain=dom_y, anchor="x" + n, range=[0, y_max[i]],
        tickvals=list(range(0, y_max[i] + 1, y_step[i])),
        ticks="inside", ticklen=5, tickcolor=AX, showline=True, linecolor=AX, linewidth=1,
        mirror=("ticks" if c == 0 else False), showgrid=False, zeroline=False, ticklabelstandoff=11,
        tickfont=dict(family=FONT, size=TICK_SIZE, color=AX))
    annotations.append(dict(text=titles[i], xref="paper", yref="paper",
                            x=((xl + xr) / 2) / W, y=1 - (yt - 19) / H, xanchor="center",
                            yanchor="middle", showarrow=False,
                            font=dict(family=FONT, size=TITLE_SIZE, color="black")))
    annotations.append(dict(text="Basis points p.a.", xref="paper", yref="paper",
                            x=(xl - 61) / W, y=1 - ((yt + yb) / 2 - 11) / H, xanchor="center",
                            yanchor="middle", textangle=-90, showarrow=False,
                            font=dict(family=FONT, size=LABEL_SIZE, color=AX)))

# legend (drawn manually to match the long line samples)
leg_y = 1 - 1357 / H
shapes = [dict(type="line", xref="paper", yref="paper", x0=347 / W, x1=452 / W, y0=leg_y, y1=leg_y,
               line=dict(color="black", width=1.3)),
          dict(type="line", xref="paper", yref="paper", x0=597 / W, x1=672 / W, y0=leg_y, y1=leg_y,
               line=dict(color=GRAY, width=4.5))]
annotations.append(dict(text="Model-Implied", xref="paper", yref="paper", x=456 / W, y=leg_y,
                        xanchor="left", yanchor="middle", showarrow=False,
                        font=dict(family=FONT, size=18, color="black")))
annotations.append(dict(text="Realized", xref="paper", yref="paper", x=678 / W, y=leg_y,
                        xanchor="left", yanchor="middle", showarrow=False,
                        font=dict(family=FONT, size=18, color="black")))

fig.update_layout(width=W, height=H, margin=dict(l=0, r=0, t=0, b=0, pad=0),
                  paper_bgcolor="white", plot_bgcolor="white", showlegend=False,
                  annotations=annotations, shapes=shapes,
                  font=dict(family=FONT, color=AX))

fig.write_html("out.html", config={"displayModeBar": False},
               post_script="document.body.style.margin='0';document.body.style.overflow='hidden';")
